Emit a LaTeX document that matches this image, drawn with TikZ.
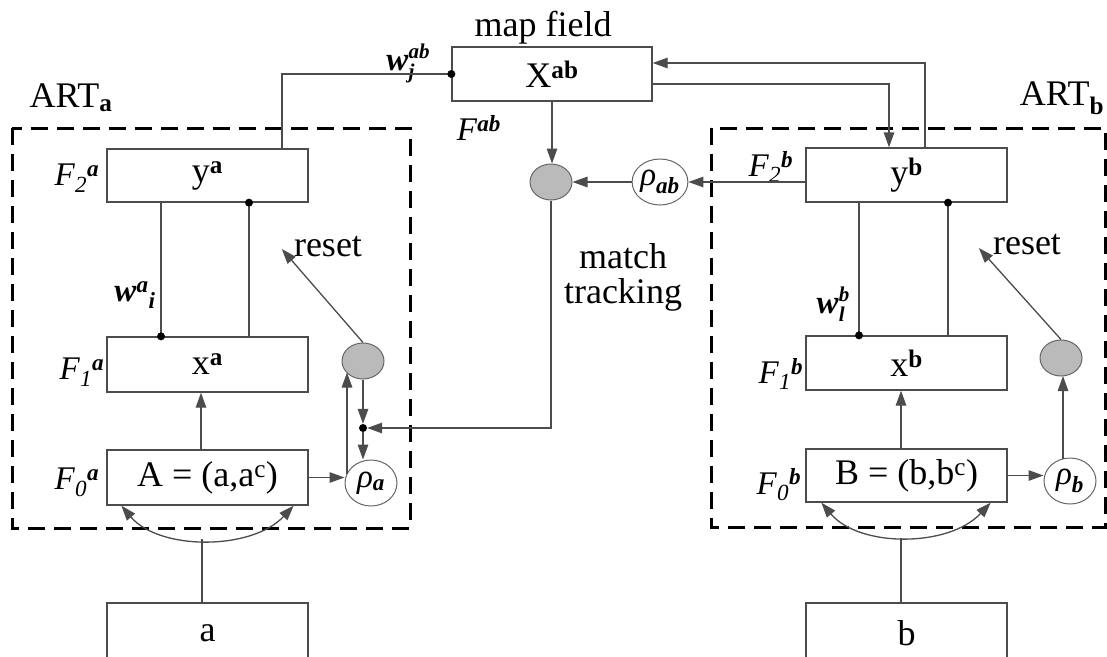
\documentclass[tikz,border=0pt]{standalone}
\usepackage{fontspec}
\setmainfont{Liberation Serif}
\usetikzlibrary{arrows.meta,shapes.geometric,calc}
\newcommand\fsmain{\fontsize{36}{32}\selectfont}
\newcommand\fslab{\fontsize{33}{34}\selectfont}
\newcommand\fsrho{\fontsize{33}{34}\selectfont}
\newcommand\fsscr{\fontsize{21}{21}\selectfont}
\newcommand\mysupsub[2]{\setbox0=\hbox{\fsscr #1}\setbox2=\hbox{\fsscr #2}\rlap{\lower8pt\box2}\raise12pt\box0}
\begin{document}
\begin{tikzpicture}[x=1pt,y=-1pt,
  wire/.style={draw=black!70, line width=1.3pt},
  arr/.style={wire, -{Triangle[length=15pt,width=10.5pt]}},
  arrboth/.style={wire, {Triangle[length=15pt,width=10.5pt]}-{Triangle[length=15pt,width=10.5pt]}},
  lay/.style={draw=black!70, line width=1.3pt, minimum width=201pt, inner sep=0pt, font=\fsmain, fill=white},
  dashbox/.style={draw=black, line width=3pt, dash pattern=on 17pt off 9pt},
  graycirc/.style={ellipse, draw=black!60, fill=black!27, line width=1pt, minimum width=42pt, minimum height=36pt, inner sep=0pt},
  rhocirc/.style={ellipse, draw=black!60, fill=white, line width=1pt, minimum width=52pt, minimum height=46pt, inner sep=0pt, font=\fsrho},
  jdot/.style={circle, fill=black, minimum size=8pt, inner sep=0pt},
  lbl/.style={inner sep=0pt, font=\fsmain},
  flbl/.style={inner sep=0pt, font=\fslab},
]
\useasboundingbox (0,0) rectangle (1107,656);
\fill[white] (0,0) rectangle (1107,656);
\clip (0,0) rectangle (1107,656);

% frames
\draw[dashbox] (12,128) rectangle (410,528);
\draw[dashbox] (711,128) rectangle (1105,527);

% layer boxes
\node[lay, minimum height=53pt] (F2a) at (207.5,175.5) {y\textsuperscript{\textbf{a}}};
\node[lay, minimum height=55pt] (F1a) at (207.5,364.5) {\raisebox{-9pt}{x\textsuperscript{\textbf{a}}}};
\node[lay, minimum height=55pt] (F0a) at (207.5,477.5) {\raisebox{-7pt}{A = (a,a\textsuperscript{c})}};
\node[lay, minimum height=60pt] (ina) at (207.5,633) {a};
\node[lay, minimum width=200pt, minimum height=54pt] (mf) at (552,74) {\raisebox{-9pt}{X\textsuperscript{\textbf{ab}}}};
\node[lay, minimum height=54pt] (F2b) at (906.5,175) {y\textsuperscript{\textbf{b}}};
\node[lay, minimum height=54pt] (F1b) at (906.5,363) {\raisebox{-9pt}{x\textsuperscript{\textbf{b}}}};
\node[lay, minimum height=53pt] (F0b) at (906.5,475.5) {\raisebox{-7pt}{B = (b,b\textsuperscript{c})}};
\node[lay, minimum height=60pt] (inb) at (906.5,633) {b};

% circles
\node[graycirc] (gab) at (551,182) {};
\node[rhocirc] (rhoab) at (660,182) {\textit{ρ}\textsubscript{\textit{\textbf{ab}}}};
\node[graycirc] (gA) at (363,361) {};
\node[rhocirc] (rhoA) at (371,483) {\textit{ρ}\textsubscript{\textit{\textbf{a}}}};
\node[graycirc] (gB) at (1061,358) {};
\node[rhocirc] (rhoB) at (1070,481) {\textit{ρ}\textsubscript{\textit{\textbf{b}}}};
\node[jdot] (jA) at (363,428) {};

% text labels
\node[lbl] (artA) at (71,98) {ART\textsubscript{\textbf{a}}};
\node[lbl] (artB) at (1062,98) {ART\textsubscript{\textbf{b}}};
\node[lbl] (mflbl) at (543,28) {map field};
\node[flbl] (Fab) at (479,128) {\textit{F}\textsuperscript{\textit{\textbf{ab}}}};
\node[flbl] (wab) at (408,63) {\textit{\textbf{w}}\mysupsub{\textit{\textbf{ab}}}{\textit{\textbf{j}}}};
\node[flbl] (wA) at (135,295) {\textit{\textbf{w}}\textsuperscript{\textit{\textbf{a}}}\textsubscript{\textit{\textbf{i}}}};
\node[flbl] (wB) at (833,304) {\textit{\textbf{w}}\mysupsub{\textit{\textbf{b}}}{\textit{\textbf{l}}}};
\node[flbl] (F2al) at (77,178) {\textit{F}\textsubscript{\textit{2}}\textsuperscript{\textit{\textbf{a}}}};
\node[flbl] (F1al) at (82,372) {\textit{F}\textsubscript{\textit{1}}\textsuperscript{\textit{\textbf{a}}}};
\node[flbl] (F0al) at (77,482) {\textit{F}\textsubscript{\textit{0}}\textsuperscript{\textit{\textbf{a}}}};
\node[flbl] (F2bl) at (771,167) {\textit{F}\textsubscript{\textit{2}}\textsuperscript{\textit{\textbf{b}}}};
\node[flbl] (F1bl) at (781,374) {\textit{F}\textsubscript{\textit{1}}\textsuperscript{\textit{\textbf{b}}}};
\node[flbl] (F0bl) at (779,485) {\textit{F}\textsubscript{\textit{0}}\textsuperscript{\textit{\textbf{b}}}};
\node[lbl] (rsA) at (328,247) {reset};
\node[lbl] (rsB) at (1027,245) {reset};
\node[lbl, align=center, font=\fontsize{36}{35}\selectfont] (mt) at (623,277) {match\\tracking};

% map field connections
\draw[wire] ([xshift=74.5pt]F2a.north) |- (mf.west);
\node[jdot] (dmf) at (mf.west) {};
\draw[arr] ([xshift=18.5pt]F2b.north) |- ([yshift=11pt]mf.east);
\draw[arr] ([yshift=-10pt]mf.east) -| ([xshift=-17.5pt]F2b.north);
\draw[arr] (mf.south) -- (mf.south |- gab.north);
\draw[arr] ([yshift=-7pt]F2b.west) -- (rhoab.east);
\draw[arr] (rhoab.west) -- (gab.east);
\draw[arr] (gab.south) |- (jA);

% ART a
\draw[arr] (gA.south) -- (jA.north);
\draw[arr] (jA.south) -- (jA.south |- rhoA.north);
\draw[arr] ([shift={(-24,-9)}]rhoA.center) -- ([shift={(-16,11.5)}]gA.center);
\draw[arr] (F0a.east) -- (F0a.east -| rhoA.west);
\draw[arr] ([xshift=-6.5pt]F0a.north) -- ([xshift=-6.5pt]F1a.south);
\draw[wire] ([xshift=-46.5pt]F2a.south) -- ([xshift=-46.5pt]F1a.north) node[jdot] (dA1) {};
\draw[wire] ([xshift=41.5pt]F1a.north) -- ([xshift=41.5pt]F2a.south) node[jdot] (dA2) {};
\draw[arr] (gA.north) -- ([shift={(-12,2)}]rsA.west);
\draw[arrboth] ([xshift=15pt]F0a.south west) .. controls +(38,45) and +(-42,45) .. ([xshift=-15pt]F0a.south east);
\coordinate (arcA) at (202,539);
\draw[wire] ([xshift=-5.5pt]ina.north) -- ([xshift=-5.5pt]ina.north |- arcA);

% ART b
\draw[arr] (F0b.east) -- (F0b.east -| rhoB.west);
\draw[arr] ([xshift=-5.5pt]F0b.north) -- ([xshift=-5.5pt]F1b.south);
\draw[wire] ([xshift=-47.5pt]F2b.south) -- ([xshift=-47.5pt]F1b.north) node[jdot] (dB1) {};
\draw[wire] ([xshift=41.5pt]F1b.north) -- ([xshift=41.5pt]F2b.south) node[jdot] (dB2) {};
\draw[arr] ([shift={(-7,-22)}]rhoB.center) -- ([shift={(2,18)}]gB.center);
\draw[arr] (gB.north) -- ([shift={(-14,3)}]rsB.west);
\draw[arrboth] ([xshift=16pt]F0b.south west) .. controls +(38,45) and +(-42,45) .. ([xshift=-17pt]F0b.south east);
\coordinate (arcB) at (901,538);
\draw[wire] ([xshift=-5.5pt]inb.north) -- ([xshift=-5.5pt]inb.north |- arcB);
\end{tikzpicture}
\end{document}
